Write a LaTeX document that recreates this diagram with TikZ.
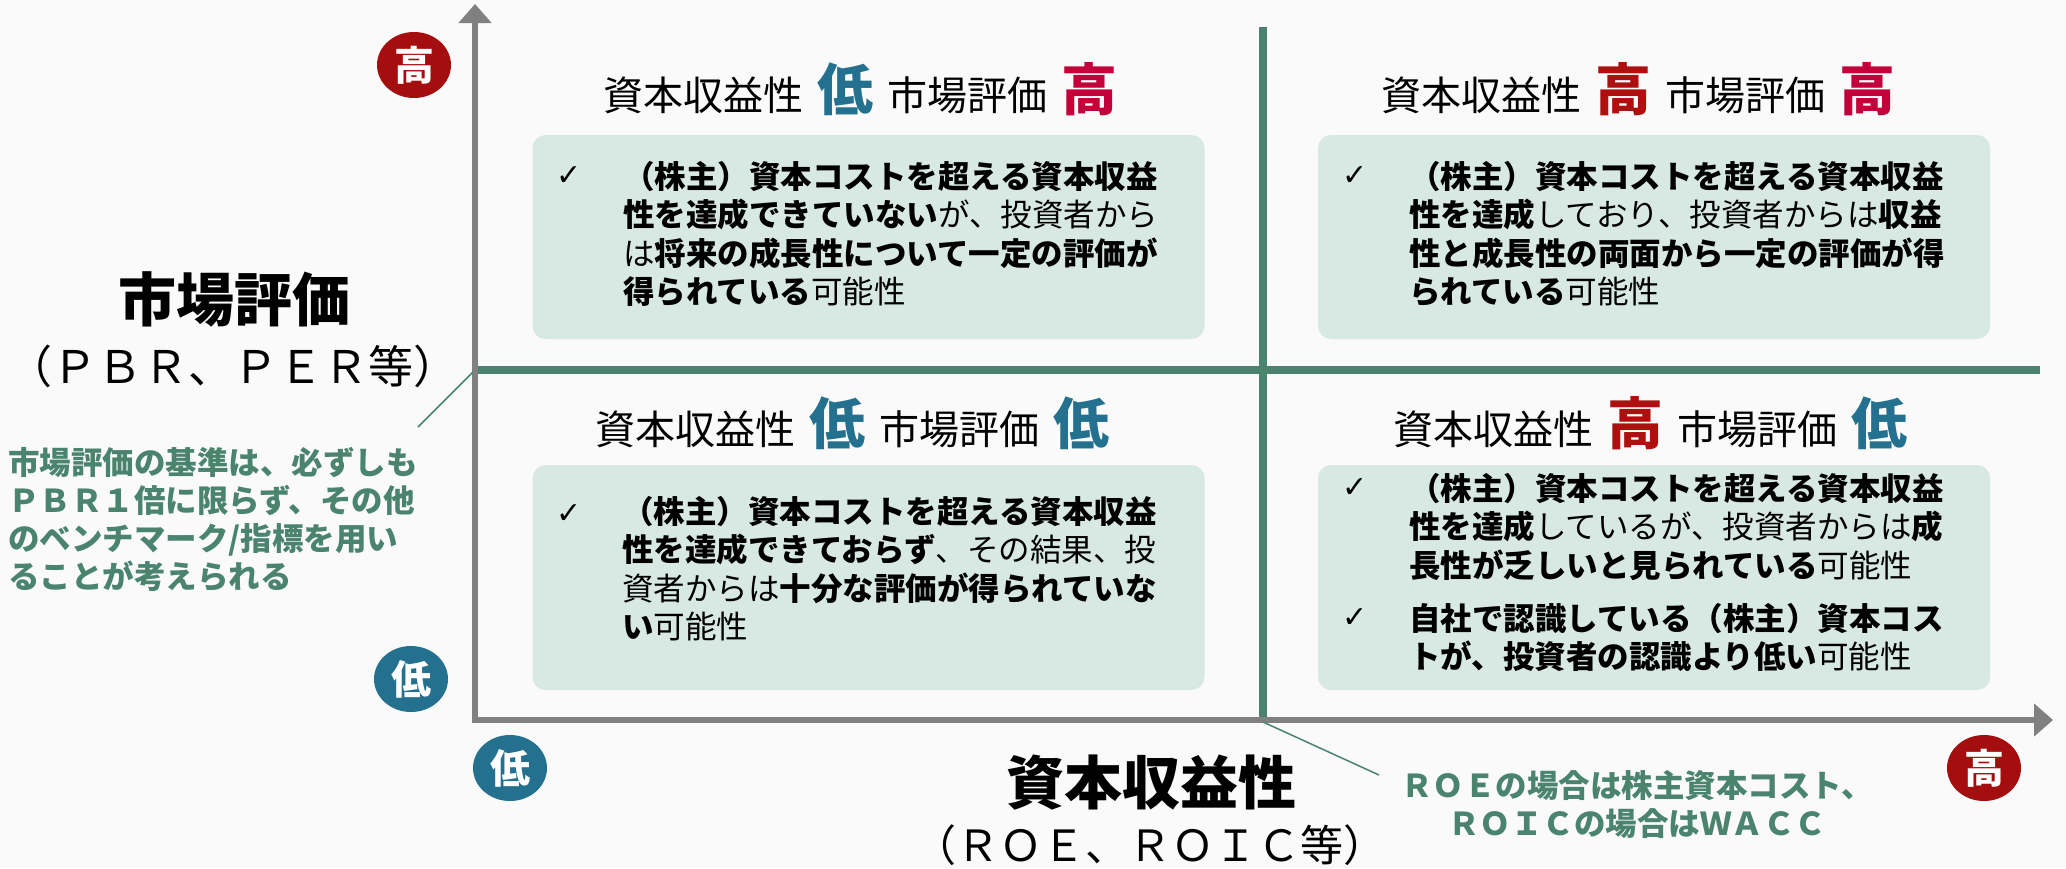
\documentclass[tikz,border=0pt]{standalone}
\usepackage{fontspec}
\setmainfont{Noto Sans CJK JP}
\newfontfamily\dvfont{DejaVu Sans}
\usetikzlibrary{arrows.meta,shapes.geometric}
\definecolor{bgc}{HTML}{FAFAFA}
\definecolor{axisgray}{HTML}{808080}
\definecolor{qgreen}{HTML}{4A846E}
\definecolor{boxfill}{HTML}{D7E9E2}
\definecolor{hicrim}{HTML}{C4003A}
\definecolor{hidark}{HTML}{AE1010}
\definecolor{lowblue}{HTML}{23708F}
\definecolor{circred}{HTML}{A50E0E}
\newcommand{\myfs}[1]{\fontsize{#1}{#1}\selectfont}
\begin{document}
\begin{tikzpicture}[x=1pt,y=-1pt,
  qbox/.style={fill=boxfill, rounded corners=13pt, minimum width=672pt, inner sep=0pt},
  hdr/.style={font=\myfs{40}, inner sep=0pt, anchor=base},
  circ/.style={ellipse, minimum width=74pt, minimum height=66pt, inner sep=0pt, text=white, font=\bfseries\myfs{40}},
  btext/.style={anchor=north west, align=left, inner sep=0pt, font=\fontsize{31.5}{38.5}\selectfont},
  chk/.style={font=\dvfont\myfs{30}, inner sep=0pt},
  gline/.style={draw=qgreen, line width=8pt},
  axisline/.style={draw=axisgray, line width=6pt, line join=miter,
     {Triangle[width=32pt,length=19pt]}-{Triangle[width=32pt,length=19pt]}},
  leader/.style={draw=qgreen, line width=1.5pt},
  bignote/.style={font=\bfseries\myfs{58}, inner sep=0pt},
  subnote/.style={inner sep=0pt},
  gnote/.style={text=qgreen, inner sep=0pt, font=\bfseries\fontsize{31.5}{38}\selectfont}
]
\useasboundingbox (0,0) rectangle (2066,868);
\fill[bgc] (0,0) rectangle (2066,868);

% quadrant divider lines
\coordinate (gH1) at (475,370);
\coordinate (gH2) at (2040,370);
\coordinate (gV1) at (1263,27);
\coordinate (gV2) at (1263,720);
\draw[gline] (gH1) -- (gH2);
\draw[gline] (gV1) -- (gV2);

% boxes
\node[qbox, minimum height=204pt] (boxTL) at (868.5,237) {};
\node[qbox, minimum height=204pt] (boxTR) at (1654,237) {};
\node[qbox, minimum height=225pt] (boxBL) at (868.5,577.5) {};
\node[qbox, minimum height=225pt] (boxBR) at (1654,577.5) {};

% axes
\coordinate (yTop) at (475,4);
\coordinate (origin) at (475,720);
\coordinate (xEnd) at (2053,720);
\draw[axisline] (yTop) -- (origin) -- (xEnd);

% circles
\node[circ, fill=circred] (hiY) at (414,65) {高};
\node[circ, fill=lowblue] (loY) at (411,679) {低};
\node[circ, fill=lowblue] (loX) at (510,768) {低};
\node[circ, fill=circred] (hiX) at (1984,768) {高};

% headings
\node[hdr] (hTL) at (860,110) {資本収益性\hspace{14pt}{\bfseries\myfs{56}\color{lowblue}低}\hspace{14pt}市場評価\hspace{14pt}{\bfseries\myfs{56}\color{hicrim}高}};
\node[hdr] (hTR) at (1638,110) {資本収益性\hspace{14pt}{\bfseries\myfs{56}\color{hidark}高}\hspace{14pt}市場評価\hspace{14pt}{\bfseries\myfs{56}\color{hicrim}高}};
\node[hdr] (hBL) at (852,444) {資本収益性\hspace{14pt}{\bfseries\myfs{56}\color{lowblue}低}\hspace{14pt}市場評価\hspace{14pt}{\bfseries\myfs{56}\color{lowblue}低}};
\node[hdr] (hBR) at (1650,444) {資本収益性\hspace{14pt}{\bfseries\myfs{56}\color{hidark}高}\hspace{14pt}市場評価\hspace{14pt}{\bfseries\myfs{56}\color{lowblue}低}};

% checkmarks
\node[chk] (cTL) at (569,176) {✓};
\node[chk] (cTR) at (1355,176) {✓};
\node[chk] (cBL) at (569,514) {✓};
\node[chk] (cBR1) at (1355,488) {✓};
\node[chk] (cBR2) at (1355,618) {✓};

% box texts
\node[btext] (tTL) at (623,161) {\textbf{（株主）資本コストを超える資本収益}\\
\textbf{性を達成できていない}が、投資者から\\
は\textbf{将来の成長性について一定の評価が}\\
\textbf{得られている}可能性};
\node[btext] (tTR) at (1409,161) {\textbf{（株主）資本コストを超える資本収益}\\
\textbf{性を達成}しており、投資者からは\textbf{収益}\\
\textbf{性と成長性の両面から一定の評価が得}\\
\textbf{られている}可能性};
\node[btext] (tBL) at (622,496) {\textbf{（株主）資本コストを超える資本収益}\\
\textbf{性を達成できておらず}、その結果、投\\
資者からは\textbf{十分な評価が得られていな}\\
\textbf{い}可能性};
\node[btext] (tBR1) at (1409,473) {\textbf{（株主）資本コストを超える資本収益}\\
\textbf{性を達成}しているが、投資者からは\textbf{成}\\
\textbf{長性が乏しいと見られている}可能性};
\node[btext] (tBR2) at (1409,603) {\textbf{自社で認識している（株主）資本コス}\\
\textbf{トが、投資者の認識より低い}可能性};

% axis labels
\node[bignote] (yLab) at (234,299) {市場評価};
\node[subnote, font=\myfs{45}] (ySub) at (233,366) {（ＰＢＲ、ＰＥＲ等）};
\node[bignote] (xLab) at (1151,783) {資本収益性};
\node[subnote, font=\myfs{43}] (xSub) at (1150,845) {（ＲＯＥ、ＲＯＩＣ等）};

% notes
\node[gnote, anchor=north west, align=left] (noteL) at (8,447) {市場評価の基準は、必ずしも\\ＰＢＲ１倍に限らず、その他\\のベンチマーク/指標を用い\\ることが考えられる};
\node[gnote, align=center] (noteB) at (1637,804) {ＲＯＥの場合は株主資本コスト、\\ＲＯＩＣの場合はＷＡＣＣ};

% leaders
\coordinate (lA) at (418,427);
\coordinate (lB) at (473,372);
\coordinate (lC) at (1263,722);
\coordinate (lD) at (1379,775);
\draw[leader] (lA) -- (lB);
\draw[leader] (lC) -- (lD);
\end{tikzpicture}
\end{document}
